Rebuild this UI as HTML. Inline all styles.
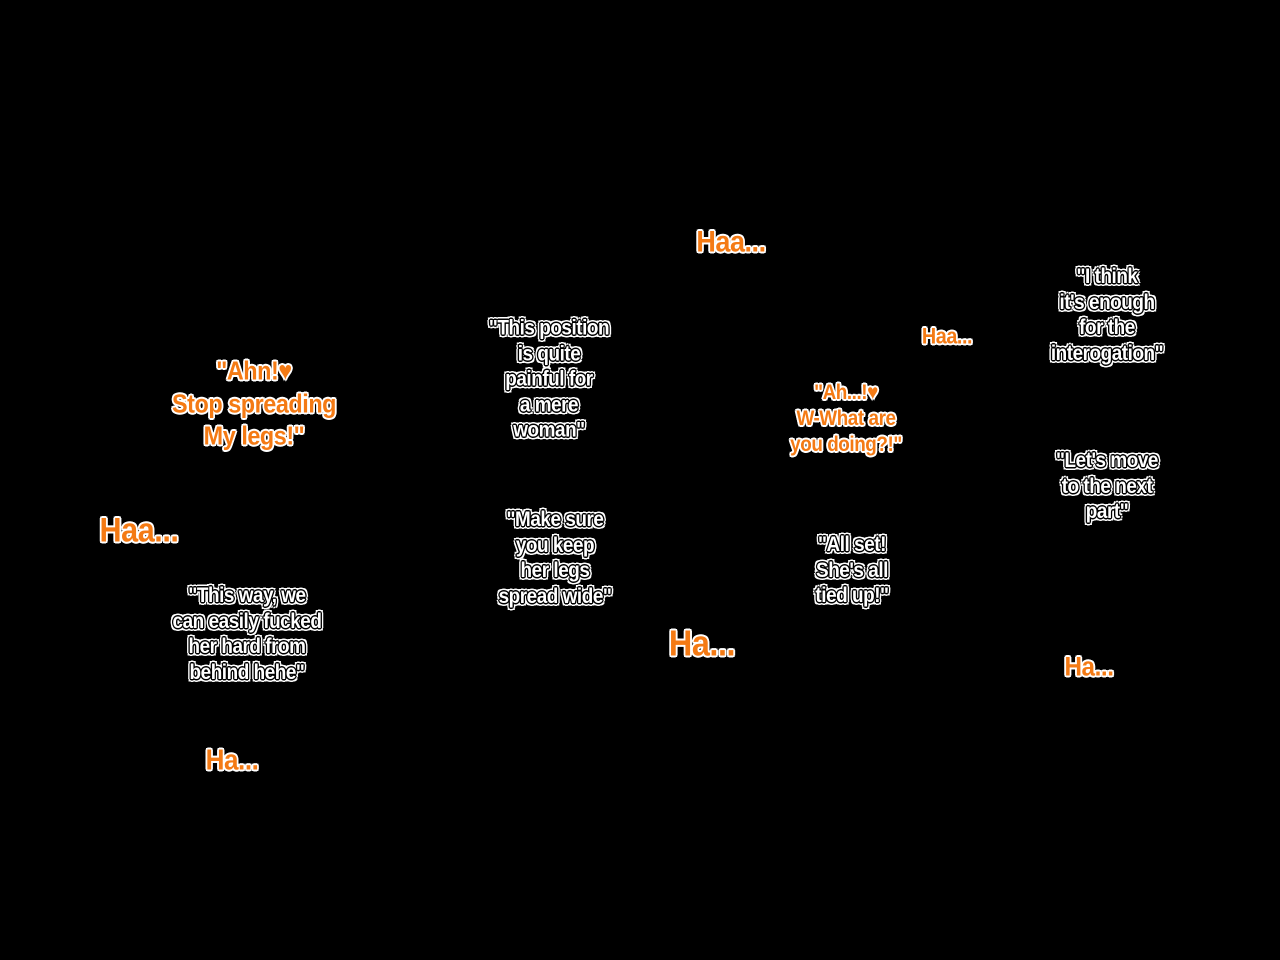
<!DOCTYPE html>
<html><head><meta charset="utf-8"><style>
html,body{margin:0;padding:0;background:#000;width:1280px;height:960px;overflow:hidden}
.t{position:absolute;transform:translate(-50%,-50%) scaleX(0.9);white-space:nowrap;text-align:center;
font-family:"Liberation Sans Narrow","Liberation Sans",sans-serif;font-weight:bold;font-size:21px;line-height:25.5px;
color:#fff;letter-spacing:-0.5px;
text-shadow:
-1px -1px 0 #000,1px -1px 0 #000,-1px 1px 0 #000,1px 1px 0 #000,0 -1.5px 0 #000,0 1.5px 0 #000,-1.5px 0 0 #000,1.5px 0 0 #000,
-2.5px -2.5px 0 #fff,2.5px -2.5px 0 #fff,-2.5px 2.5px 0 #fff,2.5px 2.5px 0 #fff,0 -3px 0 #fff,0 3px 0 #fff,-3px 0 0 #fff,3px 0 0 #fff}
.o{color:#f47a14;text-shadow:
-1.5px -1.5px 0 #fff,1.5px -1.5px 0 #fff,-1.5px 1.5px 0 #fff,1.5px 1.5px 0 #fff,0 -2px 0 #fff,0 2px 0 #fff,-2px 0 0 #fff,2px 0 0 #fff}
</style></head><body>
<div class="t o" style="left:731px;top:242px;font-size:30px">Haa...</div>
<div class="t" style="left:549px;top:379px">"This position<br>is quite<br>painful for<br>a mere<br>woman"</div>
<div class="t o" style="left:254px;top:403px;font-size:26px;line-height:32.5px">"Ahn!♥<br>Stop spreading<br>My legs!"</div>
<div class="t o" style="left:139px;top:531px;font-size:34px">Haa...</div>
<div class="t" style="left:247px;top:634px">"This way, we<br>can easily fucked<br>her hard from<br>behind hehe"</div>
<div class="t o" style="left:232px;top:761px;font-size:29px">Ha...</div>
<div class="t" style="left:555px;top:558px">"Make sure<br>you keep<br>her legs<br>spread wide"</div>
<div class="t o" style="left:702px;top:643px;font-size:36px">Ha...</div>
<div class="t o" style="left:947px;top:336px;font-size:22px">Haa...</div>
<div class="t o" style="left:846px;top:419px;font-size:21px;line-height:26px">"Ah...!♥<br>W-What are<br>you doing?!"</div>
<div class="t" style="left:852px;top:570px">"All set!<br>She's all<br>tied up!"</div>
<div class="t" style="left:1107px;top:315px">"I think<br>it's enough<br>for the<br>interogation"</div>
<div class="t" style="left:1107px;top:486px">"Let's move<br>to the next<br>part"</div>
<div class="t o" style="left:1089px;top:667px;font-size:27px">Ha...</div>
</body></html>
